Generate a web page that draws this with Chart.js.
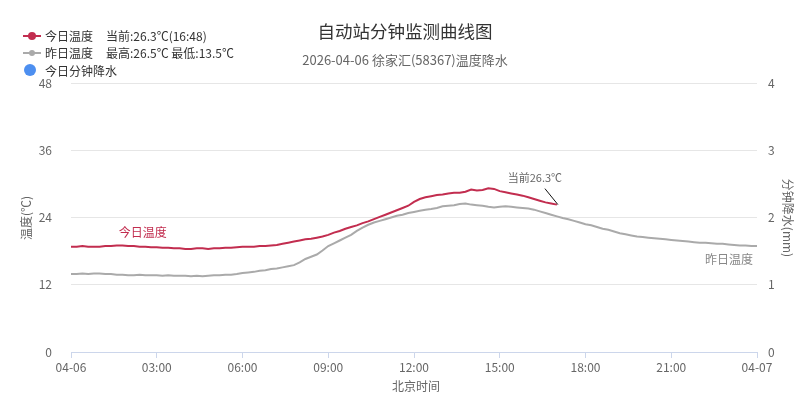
<!DOCTYPE html>
<html>
<head>
<meta charset="utf-8">
<script src="https://cdn.jsdelivr.net/npm/chart.js@4.4.1/dist/chart.umd.min.js"></script>
<style>
html, body { margin: 0; padding: 0; background: #fff; }
</style>
</head>
<body>
<canvas id="chartTemp" width="807" height="400"></canvas>
<script>
// minutes between two readings (both series)
var STEP = 12;

// 04-06 00:00 .. 16:48
var tempHoje = [
  18.8, 18.8, 18.9, 18.8, 18.8,
  18.8, 18.9, 18.9, 19.0, 19.0,
  18.9, 18.9, 18.8, 18.8, 18.7,
  18.7, 18.6, 18.6, 18.5, 18.5,
  18.4, 18.4, 18.5, 18.5, 18.4,
  18.5, 18.5, 18.6, 18.6, 18.7,
  18.8, 18.8, 18.8, 18.9, 18.9,
  19.0, 19.1, 19.3, 19.5, 19.7,
  19.9, 20.1, 20.2, 20.4, 20.6,
  20.9, 21.3, 21.6, 22.0, 22.3,
  22.6, 23.0, 23.3, 23.7, 24.1,
  24.5, 24.9, 25.3, 25.7, 26.1,
  26.8, 27.3, 27.6, 27.8, 28.0,
  28.1, 28.3, 28.4, 28.4, 28.6,
  29.0, 28.8, 28.9, 29.2, 29.1,
  28.7, 28.5, 28.3, 28.1, 27.9,
  27.6, 27.3, 27.0, 26.7, 26.5,
  26.3
];

// 04-05 whole day, drawn on the same time axis
var tempOntem = [
  13.9, 13.9, 14.0, 13.9, 14.0,
  14.0, 13.9, 13.9, 13.8, 13.8,
  13.7, 13.7, 13.8, 13.7, 13.7,
  13.7, 13.6, 13.7, 13.6, 13.6,
  13.6, 13.5, 13.6, 13.5, 13.6,
  13.7, 13.7, 13.8, 13.8, 13.9,
  14.1, 14.2, 14.3, 14.5, 14.6,
  14.8, 14.9, 15.1, 15.3, 15.5,
  16.0, 16.6, 17.0, 17.4, 18.1,
  18.9, 19.4, 19.9, 20.4, 20.9,
  21.6, 22.2, 22.7, 23.1, 23.4,
  23.7, 24.0, 24.3, 24.5, 24.8,
  25.0, 25.2, 25.4, 25.5, 25.7,
  26.0, 26.1, 26.2, 26.4, 26.5,
  26.3, 26.2, 26.1, 25.9, 25.8,
  25.9, 26.0, 25.9, 25.8, 25.7,
  25.6, 25.4, 25.1, 24.8, 24.5,
  24.2, 23.9, 23.7, 23.4, 23.1,
  22.8, 22.6, 22.3, 22.0, 21.8,
  21.5, 21.2, 21.0, 20.8, 20.6,
  20.5, 20.4, 20.3, 20.2, 20.1,
  20.0, 19.9, 19.8, 19.7, 19.6,
  19.5, 19.5, 19.4, 19.3, 19.3,
  19.2, 19.1, 19.0, 19.0, 18.9,
  18.9
];

// no rain today
var chuvaHoje = [];

var rotulosTempo = ['04-06', '03:00', '06:00', '09:00', '12:00', '15:00', '18:00', '21:00', '04-07'];
var ticksTempo = [0, 180, 360, 540, 720, 900, 1080, 1260, 1440];

var legendaExtra = ['当前:26.3℃(16:48)', '最高:26.5℃ 最低:13.5℃', ''];

var FONTE = '"Noto Sans CJK SC", "Noto Sans", sans-serif';
Chart.defaults.font.family = FONTE;

function pontos(lista) {
  return lista.map(function (v, i) { return { x: i * STEP, y: v }; });
}

// título, legenda, títulos dos eixos e anotações
var desenhoExtra = {
  id: 'desenhoExtra',
  afterDraw: function (chart) {
    var ctx = chart.ctx;
    var sx = chart.scales.x;
    var sy = chart.scales.y;
    var area = chart.chartArea;
    ctx.save();

    // título
    ctx.textAlign = 'center';
    ctx.textBaseline = 'middle';
    ctx.fillStyle = '#333333';
    ctx.font = '17.5px ' + FONTE;
    ctx.fillText('自动站分钟监测曲线图', 405, 31);
    ctx.fillStyle = '#666666';
    ctx.font = '13px ' + FONTE;
    ctx.fillText('2026-04-06 徐家汇(58367)温度降水', 405, 60);

    // legenda
    var linhas = [36, 53, 71];
    chart.data.datasets.forEach(function (ds, i) {
      var y = linhas[i];
      if (ds.type === 'bar') {
        ctx.fillStyle = ds.backgroundColor;
        ctx.beginPath();
        ctx.arc(30, y - 1, 6, 0, Math.PI * 2);
        ctx.fill();
      } else {
        ctx.strokeStyle = ds.borderColor;
        ctx.lineWidth = 2;
        ctx.beginPath();
        ctx.moveTo(23, y);
        ctx.lineTo(41, y);
        ctx.stroke();
        ctx.fillStyle = ds.borderColor;
        ctx.beginPath();
        ctx.arc(32, y, i === 0 ? 4 : 3, 0, Math.PI * 2);
        ctx.fill();
      }
      ctx.textAlign = 'left';
      ctx.fillStyle = '#333333';
      ctx.font = '12px ' + FONTE;
      ctx.fillText(ds.label, 45, y);
      if (legendaExtra[i]) ctx.fillText(legendaExtra[i], 106, y);
    });

    // títulos dos eixos
    ctx.fillStyle = '#666666';
    ctx.font = '12px ' + FONTE;
    ctx.textAlign = 'center';
    ctx.fillText('北京时间', (area.left + area.right) / 2 + 2, 386);
    ctx.save();
    ctx.translate(26, 218);
    ctx.rotate(-Math.PI / 2);
    ctx.fillText('温度(℃)', 0, 0);
    ctx.restore();
    ctx.save();
    ctx.translate(788, 218);
    ctx.rotate(Math.PI / 2);
    ctx.fillText('分钟降水(mm)', 0, 0);
    ctx.restore();

    // rótulos das séries
    ctx.font = '12px ' + FONTE;
    ctx.fillStyle = '#c22d4f';
    ctx.textAlign = 'left';
    ctx.fillText('今日温度', sx.getPixelForValue(100), sy.getPixelForValue(tempHoje[8]) - 13);
    ctx.fillStyle = '#888888';
    ctx.textAlign = 'right';
    ctx.fillText('昨日温度', area.right - 4, sy.getPixelForValue(tempOntem[tempOntem.length - 1]) + 13);

    // valor atual
    var ult = tempHoje.length - 1;
    var px = sx.getPixelForValue(ult * STEP);
    var py = sy.getPixelForValue(tempHoje[ult]);
    ctx.strokeStyle = '#111111';
    ctx.lineWidth = 1;
    ctx.beginPath();
    ctx.moveTo(px - 12, py - 16);
    ctx.lineTo(px + 1, py);
    ctx.stroke();
    ctx.fillStyle = '#666666';
    ctx.textAlign = 'center';
    ctx.font = '11px ' + FONTE;
    ctx.fillText('当前' + tempHoje[ult].toFixed(1) + '℃', px - 22, py - 27);

    ctx.restore();
  }
};

var ctxTemp = document.getElementById('chartTemp');

new Chart(ctxTemp, {
  type: 'line',
  data: {
    datasets: [{
      label: '今日温度',
      data: pontos(tempHoje),
      borderColor: '#c22d4f',
      backgroundColor: '#c22d4f',
      borderWidth: 2,
      pointRadius: 0,
      tension: 0,
      yAxisID: 'y',
      order: 1
    }, {
      label: '昨日温度',
      data: pontos(tempOntem),
      borderColor: '#aaaaaa',
      backgroundColor: '#aaaaaa',
      borderWidth: 2,
      pointRadius: 0,
      tension: 0,
      yAxisID: 'y',
      order: 2
    }, {
      type: 'bar',
      label: '今日分钟降水',
      data: pontos(chuvaHoje),
      backgroundColor: '#4d8ff0',
      yAxisID: 'y1'
    }]
  },
  options: {
    responsive: false,
    animation: false,
    layout: {
      padding: { top: 83, left: 0, right: 0, bottom: 0 }
    },
    plugins: {
      legend: { display: false },
      title: { display: false },
      tooltip: { enabled: false }
    },
    scales: {
      x: {
        type: 'linear',
        min: 0,
        max: 1440,
        offset: false,
        afterBuildTicks: function (scale) {
          scale.ticks = ticksTempo.map(function (v) { return { value: v }; });
        },
        afterFit: function (scale) { scale.height = 48; },
        ticks: {
          color: '#666666',
          font: { size: 12 },
          padding: 2,
          maxRotation: 0,
          autoSkip: false,
          callback: function (value, index) { return rotulosTempo[index]; }
        },
        grid: {
          offset: false,
          drawOnChartArea: false,
          drawTicks: true,
          tickLength: 6,
          color: '#ccd6eb'
        },
        border: { display: true, color: '#ccd6eb' }
      },
      y: {
        position: 'left',
        min: 0,
        max: 48,
        afterFit: function (scale) { scale.width = 71; },
        ticks: {
          stepSize: 12,
          color: '#666666',
          font: { size: 12 },
          padding: 19
        },
        grid: { color: '#e6e6e6', drawTicks: false },
        border: { display: false }
      },
      y1: {
        position: 'right',
        min: 0,
        max: 4,
        afterFit: function (scale) { scale.width = 50; },
        ticks: {
          stepSize: 1,
          color: '#666666',
          font: { size: 12 },
          padding: 11
        },
        grid: { display: false, drawTicks: false },
        border: { display: false }
      }
    }
  },
  plugins: [desenhoExtra]
});
</script>
</body>
</html>
